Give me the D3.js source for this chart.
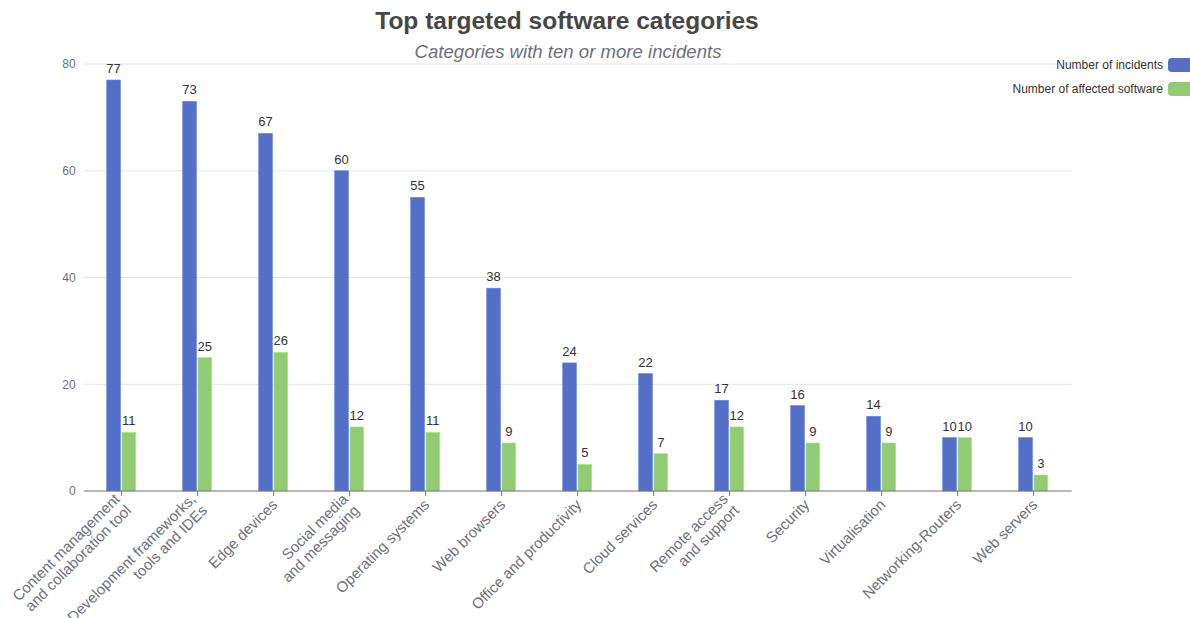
<!DOCTYPE html>
<html>
<head>
<meta charset="utf-8">
<script src="https://cdn.jsdelivr.net/npm/d3@7"></script>
<style>
  html, body { margin: 0; padding: 0; background: #fff; }
  svg { display: block; font-family: "Liberation Sans", Arial, Helvetica, sans-serif; }
</style>
</head>
<body>
<svg id="chart" width="1190" height="618"></svg>
<script>
// Category labels (line breaks marked with \n)
const categories = [
  "Content management\nand collaboration tool",
  "Development frameworks,\ntools and IDEs",
  "Edge devices",
  "Social media\nand messaging",
  "Operating systems",
  "Web browsers",
  "Office and productivity",
  "Cloud services",
  "Remote access\nand support",
  "Security",
  "Virtualisation",
  "Networking-Routers",
  "Web servers"
];
const incidents = [77, 73, 67, 60, 55, 38, 24, 22, 17, 16, 14, 10, 10];
const affected  = [11, 25, 26, 12, 11, 9, 5, 7, 12, 9, 9, 10, 3];
const seriesNames = ["Number of incidents", "Number of affected software"];
const yTicks = [0, 20, 40, 60, 80];

const colors = ["#5470c6", "#91cc75"];
const svg = d3.select("#chart");
const margin = { left: 83.7, right: 1071.7, top: 64, bottom: 491 };

const x = d3.scaleBand().domain(categories).range([margin.left, margin.right]);
const y = d3.scaleLinear().domain([0, 80]).range([margin.bottom, margin.top]);

// Title and subtitle
svg.append("text")
  .attr("x", 567).attr("y", 29)
  .attr("text-anchor", "middle")
  .attr("font-size", 24.5).attr("font-weight", "bold")
  .attr("fill", "#464646")
  .text("Top targeted software categories");
svg.append("text")
  .attr("x", 568).attr("y", 58)
  .attr("text-anchor", "middle")
  .attr("font-size", 18.6).attr("font-style", "italic")
  .attr("fill", "#6e7079")
  .text("Categories with ten or more incidents");

// Horizontal gridlines
svg.append("g").selectAll("line")
  .data(yTicks.filter(t => t > 0))
  .join("line")
  .attr("x1", margin.left).attr("x2", margin.right)
  .attr("y1", d => y(d)).attr("y2", d => y(d))
  .attr("stroke", "#e0e6f1").attr("stroke-width", 1);

// Y axis labels
const yAxis = d3.axisLeft(y).tickValues(yTicks).tickSize(0).tickPadding(8);
const gy = svg.append("g").attr("transform", `translate(${margin.left},0)`).call(yAxis);
gy.select(".domain").remove();
gy.selectAll("text").attr("font-size", 12).attr("fill", "#6e7079")
  .attr("font-family", "Liberation Sans, Arial, sans-serif");

// Bars: the pair sits roughly centred on each category
const half = x.bandwidth() / 2;
const inner = d3.scaleBand().domain([0, 1]).range([half - 15, half + 14]).paddingInner(0.1);
const seriesData = [incidents, affected];
seriesData.forEach((vals, si) => {
  const g = svg.append("g");
  g.selectAll("rect")
    .data(vals)
    .join("rect")
    .attr("x", (d, i) => x(categories[i]) + inner(si))
    .attr("width", inner.bandwidth())
    .attr("y", d => y(d))
    .attr("height", d => y(0) - y(d))
    .attr("fill", colors[si])
    .attr("stroke", d3.color(colors[si]).brighter(0.4))
    .attr("stroke-width", 0.6);
  g.selectAll("text")
    .data(vals)
    .join("text")
    .attr("x", (d, i) => x(categories[i]) + inner(si) + inner.bandwidth() / 2)
    .attr("y", d => y(d) - 7)
    .attr("text-anchor", "middle")
    .attr("font-size", 13)
    .attr("fill", "#333")
    .text(d => d);
});

// X axis
const xAxis = d3.axisBottom(x).tickSize(5).tickFormat("");
const gx = svg.append("g").attr("transform", `translate(0,${margin.bottom})`).call(xAxis);
gx.select(".domain").attr("stroke", "#6e7079").attr("d", `M${margin.left},0H${margin.right}`);
gx.selectAll(".tick line").attr("stroke", "#6e7079");

// Rotated category labels
const lineH = 16;
const labels = svg.append("g").selectAll("text")
  .data(categories)
  .join("text")
  .attr("transform", d => `translate(${x(d) + half + 1},${margin.bottom + 11}) rotate(-45)`)
  .attr("text-anchor", "end")
  .attr("font-size", 15)
  .attr("fill", "#6e7079");
labels.each(function(d) {
  const lines = d.split("\n");
  const t = d3.select(this);
  lines.forEach((ln, k) => {
    t.append("tspan")
      .attr("x", 0)
      .attr("y", (k - (lines.length - 1) / 2) * lineH)
      .attr("dy", "0.35em")
      .text(ln);
  });
});

// Legend
const legend = svg.append("g");
seriesNames.forEach((name, i) => {
  const ly = 65 + i * 24;
  legend.append("rect")
    .attr("x", 1168).attr("y", ly - 7)
    .attr("width", 25).attr("height", 14)
    .attr("rx", 4)
    .attr("fill", colors[i]);
  legend.append("text")
    .attr("x", 1163).attr("y", ly)
    .attr("dy", "0.35em")
    .attr("text-anchor", "end")
    .attr("font-size", 12)
    .attr("fill", "#333")
    .text(name);
});
</script>
</body>
</html>
